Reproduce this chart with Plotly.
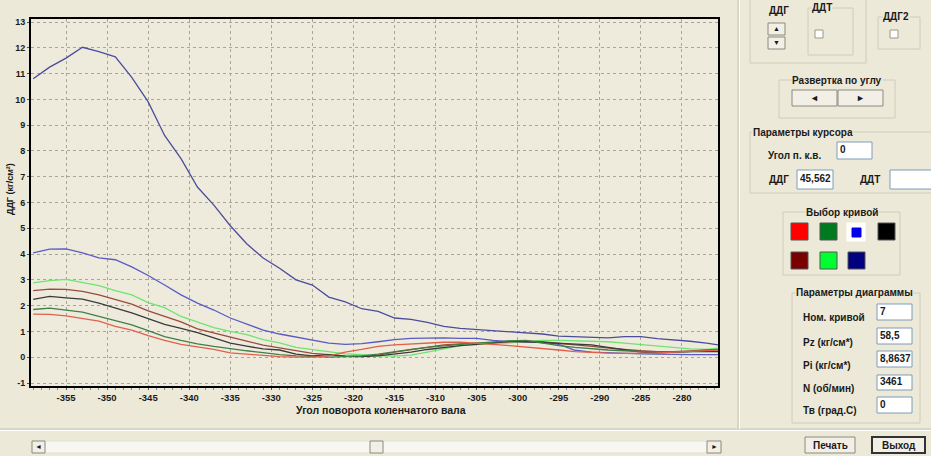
import plotly.graph_objects as go

# ---------------- data ----------------
angle = [-359, -357, -355, -353, -351, -349, -347, -345, -343, -341, -339, -337, -335,
         -333, -331, -329, -327, -325, -323, -321, -319, -317, -315, -313, -311, -309,
         -307, -305, -303, -301, -299, -297, -295, -293, -291, -289, -287, -285, -283,
         -281, -279, -277, -275]

curve_navy = [10.8, 11.25, 11.6, 12.02, 11.85, 11.65, 10.85, 9.9, 8.6, 7.7, 6.6, 5.9, 5.1,
              4.4, 3.85, 3.45, 3.0, 2.8, 2.33, 2.15, 1.88, 1.78, 1.52, 1.47, 1.35, 1.2,
              1.12, 1.08, 1.02, 0.98, 0.95, 0.9, 0.82, 0.8, 0.78, 0.75, 0.8, 0.8, 0.72,
              0.68, 0.62, 0.55, 0.45]
curve_blue = [4.05, 4.19, 4.2, 4.05, 3.85, 3.78, 3.5, 3.17, 2.8, 2.42, 2.1, 1.83, 1.52,
              1.28, 1.05, 0.9, 0.78, 0.65, 0.55, 0.5, 0.53, 0.6, 0.68, 0.73, 0.75, 0.75,
              0.73, 0.73, 0.65, 0.6, 0.6, 0.58, 0.5, 0.27, 0.2, 0.17, 0.15, 0.13, 0.12,
              0.1, 0.1, 0.1, 0.1]
curve_lime = [2.88, 2.97, 3.02, 2.9, 2.78, 2.58, 2.42, 2.12, 1.92, 1.58, 1.36, 1.15, 1.0,
              0.88, 0.68, 0.56, 0.38, 0.3, 0.2, 0.13, 0.1, 0.05, 0.04, 0.08, 0.2, 0.32,
              0.45, 0.5, 0.53, 0.56, 0.62, 0.65, 0.65, 0.64, 0.63, 0.6, 0.55, 0.49, 0.42,
              0.36, 0.32, 0.3, 0.38]
curve_maroon = [2.58, 2.64, 2.63, 2.55, 2.42, 2.25, 2.06, 1.8, 1.58, 1.37, 1.1, 0.93, 0.78,
                0.62, 0.47, 0.37, 0.25, 0.15, 0.1, 0.05, 0.03, 0.08, 0.2, 0.3, 0.4, 0.48,
                0.52, 0.55, 0.58, 0.6, 0.62, 0.6, 0.55, 0.48, 0.42, 0.35, 0.3, 0.25, 0.22,
                0.22, 0.25, 0.28, 0.3]
curve_black = [2.24, 2.36, 2.3, 2.25, 2.1, 1.92, 1.72, 1.5, 1.27, 1.12, 0.95, 0.75, 0.55,
               0.43, 0.32, 0.28, 0.12, 0.05, 0.1, 0.03, 0.02, 0.05, 0.12, 0.2, 0.3, 0.38,
               0.45, 0.5, 0.57, 0.62, 0.6, 0.57, 0.55, 0.52, 0.48, 0.38, 0.28, 0.2, 0.17,
               0.2, 0.22, 0.22, 0.22]
curve_green = [1.85, 1.9, 1.83, 1.75, 1.58, 1.42, 1.25, 1.03, 0.8, 0.65, 0.52, 0.42, 0.33,
               0.25, 0.18, 0.1, 0.05, 0.03, 0.0, 0.02, 0.05, 0.12, 0.22, 0.3, 0.38, 0.45,
               0.5, 0.55, 0.6, 0.63, 0.65, 0.55, 0.45, 0.38, 0.32, 0.28, 0.25, 0.22, 0.2,
               0.2, 0.22, 0.28, 0.32]
curve_red = [1.67, 1.66, 1.6, 1.5, 1.4, 1.2, 1.05, 0.84, 0.65, 0.5, 0.4, 0.3, 0.17,
             0.12, 0.06, 0.02, 0.0, 0.0, 0.05, 0.2, 0.3, 0.42, 0.48, 0.52, 0.55, 0.58,
             0.58, 0.55, 0.5, 0.45, 0.4, 0.33, 0.28, 0.22, 0.18, 0.16, 0.15, 0.15, 0.17,
             0.2, 0.22, 0.25, 0.28]

x_ticks = [-355, -350, -345, -340, -335, -330, -325, -320, -315, -310, -305, -300,
           -295, -290, -285, -280]
y_ticks = [-1, 0, 1, 2, 3, 4, 5, 6, 7, 8, 9, 10, 11, 12, 13]

series = [
    ("navy", curve_navy, "#4c4c9c"),
    ("blue", curve_blue, "#5a5ac4"),
    ("lime", curve_lime, "#6ee46e"),
    ("maroon", curve_maroon, "#9a4a3c"),
    ("black", curve_black, "#3a3a3a"),
    ("green", curve_green, "#3f7f48"),
    ("red", curve_red, "#e0604c"),
]

# ---------------- layout helpers ----------------
FW, FH = 931, 456
L, R, T, B = 31, 718, 19, 386
W, H = R - L, B - T
BG = "#ECE9D8"


def px(x):
    return (x - L) / W


def py(y):
    return (B - y) / H


shapes = []
annots = []


def rect(x0, y0, x1, y1, line="#A5A292", fill=None, width=1):
    shapes.append(dict(type="rect", xref="paper", yref="paper",
                       x0=px(x0), x1=px(x1), y0=py(y0), y1=py(y1),
                       line=dict(color=line, width=width),
                       fillcolor=fill if fill else "rgba(0,0,0,0)", layer="above"))


def hline(x0, x1, y, color="#C5C2B2", width=1):
    shapes.append(dict(type="line", xref="paper", yref="paper",
                       x0=px(x0), x1=px(x1), y0=py(y), y1=py(y),
                       line=dict(color=color, width=width)))


def vline(x, y0, y1, color="#C5C2B2", width=1):
    shapes.append(dict(type="line", xref="paper", yref="paper",
                       x0=px(x), x1=px(x), y0=py(y0), y1=py(y1),
                       line=dict(color=color, width=width)))


def text(x, y, s, size=10, anchor="left", bold=True, bg=None, color="#1a1a1a"):
    annots.append(dict(xref="paper", yref="paper", x=px(x), y=py(y), text=s,
                       showarrow=False, xanchor=anchor, yanchor="middle",
                       font=dict(family="Liberation Sans, Arial", size=size, color=color,
                                 weight="bold" if bold else "normal"),
                       bgcolor=bg, borderpad=0))


def groupbox(x0, y0, x1, y1, label=None, lx=None, center=False):
    rect(x0, y0, x1, y1, line="#CFCCBC")
    if label:
        if center:
            text((x0 + x1) / 2, y0, label, anchor="center", bg=BG)
        else:
            text(lx if lx else x0 + 4, y0, label, anchor="left", bg=BG)


def inputbox(x0, y0, x1, y1, val=""):
    rect(x0, y0, x1, y1, line="#7F9DB9", fill="#FFFFFF")
    if val:
        text(x0 + 2, (y0 + y1) / 2 - 1, val, size=10, anchor="left", bold=True)


def button(x0, y0, x1, y1, label="", dark=False, size=10):
    rect(x0, y0, x1, y1, line="#333333" if dark else "#8C8A7E", fill="#F2F0E6",
         width=2 if dark else 1)
    if label:
        text((x0 + x1) / 2, (y0 + y1) / 2, label, size=size, anchor="center")


# chart frame separators
hline(0, 931, 429, "#C5C2B2")
hline(0, 931, 430.5, "#FFFFFF")
vline(738, 0, 429, "#C5C2B2")
vline(739.5, 0, 429, "#FFFFFF")

# scrollbar
rect(32, 441, 721, 453, line="#E2E0D4", fill="#F7F6F1")
button(32, 441, 45, 453, "◄", size=7)
button(370, 441, 383, 453)
button(707, 441, 721, 453, "►", size=7)

# top controls
groupbox(750, -5, 866, 63)
text(779, 11, "ДДГ", anchor="center")
button(768, 23, 785, 35, "▲", size=7)
button(768, 37, 785, 49, "▼", size=7)
groupbox(808, 8, 853, 55, "ДДТ", lx=811)
rect(815, 30, 823, 38, line="#9A9888", fill="#FFFFFF")
groupbox(878, 17, 920, 49, "ДДГ2", lx=882)
rect(890, 30, 898, 38, line="#9A9888", fill="#FFFFFF")

groupbox(779, 80, 895, 118, "Развертка по углу", center=True)
button(792, 90, 837, 106, "◄", size=9)
button(838, 90, 883, 106, "►", size=9)

groupbox(750, 132, 940, 193, "Параметры курсора", lx=752)
text(767, 155, "Угол п. к.в.")
inputbox(837, 142, 872, 159, "0")
text(768, 179, "ДДГ")
inputbox(797, 170, 833, 189, "45,562")
text(859, 179, "ДДТ")
inputbox(890, 170, 940, 189)

groupbox(783, 212, 900, 275, "Выбор кривой", center=True)
swatches = [
    (791, 223, "#FF0000"), (820, 223, "#007A1E"), (878, 223, "#000000"),
    (791, 252, "#7A0000"), (820, 252, "#00FF30"), (848, 252, "#000080"),
]
for sx, sy, c in swatches:
    rect(sx, sy, sx + 17, sy + 17, line="#555555", fill=c)
rect(847, 223, 865, 241, line="#FFFFFF", fill="#FFFFFF")
rect(852, 228, 861, 237, line="#0000EE", fill="#0000EE")

groupbox(792, 293, 920, 423, "Параметры диаграммы", lx=795)
rows = [("Ном. кривой", 317, "7", 304, 320), ("Pz (кг/см*)", 342, "58,5", 328, 344),
        ("Pi (кг/см*)", 365, "8,8637", 351, 367), ("N (об/мин)", 388, "3461", 375, 390),
        ("Тв (град.С)", 410, "0", 397, 413)]
for lab, ly, val, b0, b1 in rows:
    text(802, ly, lab)
    inputbox(877, b0, 912, b1, val)

button(805, 437, 855, 453, "Печать")
button(872, 437, 925, 453, "Выход", dark=True)

# axis titles
text(381, 410, "Угол поворота коленчатого вала", size=10.5, anchor="center")
annots.append(dict(xref="paper", yref="paper", x=px(10), y=py(189),
                   text="ДДГ (кг/см²)", showarrow=False, textangle=-90,
                   xanchor="center", yanchor="middle",
                   font=dict(family="Liberation Sans, Arial", size=9, color="#1a1a1a",
                             weight="bold")))

# ---------------- figure ----------------
fig = go.Figure()
for name, vals, col in series:
    fig.add_trace(go.Scatter(x=angle, y=vals, mode="lines", name=name,
                             line=dict(color=col, width=1.3), hoverinfo="skip"))

x0 = -355 - (66 - L) / 8.2
x1 = -280 + (R - 682) / 8.2
y1 = 13 + (22 - T) / 25.8
y0 = -1 - (B - 383) / 25.8

fig.update_layout(
    width=FW, height=FH,
    margin=dict(l=L, r=FW - R, t=T, b=FH - B, pad=0),
    paper_bgcolor=BG, plot_bgcolor="#EEEBDD",
    showlegend=False,
    shapes=shapes, annotations=annots,
    xaxis=dict(range=[x0, x1], tickvals=x_ticks, ticktext=[str(v) for v in x_ticks],
               showgrid=True, gridcolor="#A8A69A", griddash="dot", gridwidth=1,
               showline=True, linecolor="#000000", linewidth=2, mirror=True,
               ticks="outside", ticklen=2, tickcolor="#555555",
               minor=dict(dtick=1, ticks="outside", ticklen=2, tickcolor="#888888"),
               zeroline=False, fixedrange=True,
               tickfont=dict(family="Liberation Sans, Arial", size=9.5, color="#1a1a1a",
                             weight="bold")),
    yaxis=dict(range=[y0, y1], tickvals=y_ticks, ticktext=[str(v) for v in y_ticks],
               showgrid=True, gridcolor="#A8A69A", griddash="dot", gridwidth=1,
               showline=True, linecolor="#000000", linewidth=2, mirror=True,
               ticks="outside", ticklen=2, tickcolor="#555555",
               zeroline=False, fixedrange=True,
               tickfont=dict(family="Liberation Sans, Arial", size=9, color="#1a1a1a",
                             weight="bold")),
)

fig.write_html("out.html", config={"displayModeBar": False},
               post_script="document.body.style.margin='0';"
                           "document.body.style.overflow='hidden';"
                           "document.body.style.background='#ECE9D8';")
